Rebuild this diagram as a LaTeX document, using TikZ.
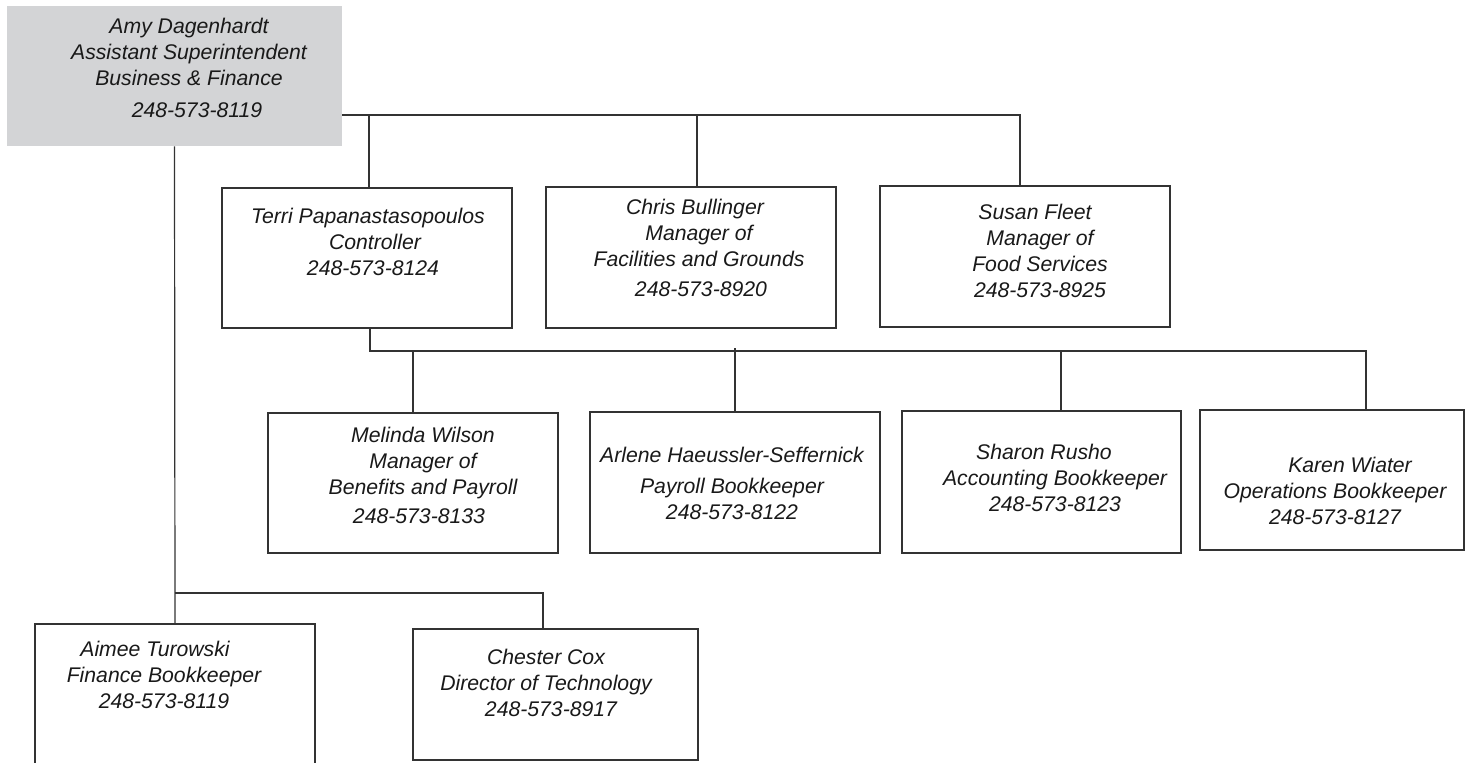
\documentclass[tikz,border=0pt]{standalone}
\usepackage{fontspec}
\setmainfont{Liberation Sans}
\definecolor{headgray}{RGB}{211,212,214}
\begin{document}
\begin{tikzpicture}[x=0.5pt, y=-0.5pt,
    box/.style={draw=black!80, line width=0.65pt, inner sep=0pt},
    headbox/.style={fill=headgray, inner sep=0pt},
    info/.style={anchor=base, align=center, inner sep=0pt, text=black!90,
      font=\fontsize{10.6}{13}\selectfont\itshape},
    link/.style={draw=black!80, line width=0.6pt}]
    \useasboundingbox (0,0) rectangle (1471,763);
    \clip (0,0) rectangle (1471,763);

    % boxes:
    \node[headbox, minimum width=167.5pt, minimum height=70pt] (amy) at (174.5,76) {};

    % first row
    \node[box, minimum width=145pt, minimum height=70pt] (terri) at (367,258) {};
    \node[box, minimum width=145pt, minimum height=70.5pt] (chris) at (691,257.5) {};
    \node[box, minimum width=145pt, minimum height=70.5pt] (susan) at (1025,256.5) {};

    % second row
    \node[box, minimum width=145pt, minimum height=70pt] (melinda) at (413,483) {};
    \node[box, minimum width=145pt, minimum height=70.5pt] (arlene) at (735,482.5) {};
    \node[box, minimum width=139.5pt, minimum height=71pt] (sharon) at (1041.5,482) {};
    \node[box, minimum width=132pt, minimum height=70pt] (karen) at (1332,480) {};

    % bottom row (cut off by the page)
    \node[box, minimum width=140pt, minimum height=76pt] (aimee) at (175,700) {};
    \node[box, minimum width=142.5pt, minimum height=65.5pt] (chester) at (555.5,694.5) {};

    % lines:
    \coordinate (busTop) at (0,115);
    \coordinate (busMid) at (0,351);
    \coordinate (busLow) at (0,593);

    % to first row
    \draw[link] (amy.east |- busTop) -| ([xshift=-2.5pt]susan.north);
    \draw[link] ([xshift=1pt]terri.north) -- ([xshift=1pt]terri.north |- busTop);
    \draw[link] ([xshift=3pt]chris.north) -- ([xshift=3pt]chris.north |- busTop);

    % controller to second row
    \draw[link] ([xshift=1.5pt]terri.south) |- ([xshift=17pt]karen.north |- busMid) -- ([xshift=17pt]karen.north);
    \draw[link] (melinda.north) -- (melinda.north |- busMid);
    \draw[link] (arlene.north) -- ([yshift=1.5pt]arlene.north |- busMid);
    \draw[link] ([xshift=9.75pt]sharon.north) -- ([xshift=9.75pt]sharon.north |- busMid);

    % to bottom row
    \draw[link] (amy.south) -- (aimee.north);
    \draw[link] (amy.south |- busLow) -| ([xshift=-6.25pt]chester.north);

    % texts (placed by the baseline of their last line):
    \node[info] (amyText) at (189,118) {Amy Dagenhardt\\Assistant Superintendent\\Business \& Finance\hspace*{5pt}\\[3pt]\hspace*{8pt}248-573-8119};
    \node[info] (terriText) at (368,276) {Terri Papanastasopoulos\\\hspace*{7pt}Controller\\\hspace*{5pt}248-573-8124};
    \node[info] (chrisText) at (699,297) {Chris Bullinger\hspace*{4pt}\\Manager of\hspace*{12pt}\\Facilities and Grounds\\[2pt]\hspace*{2pt}248-573-8920};
    \node[info] (susanText) at (1040,298) {Susan Fleet\hspace*{5pt}\\Manager of\\Food Services\\248-573-8925};
    \node[info] (melindaText) at (423,524) {Melinda Wilson\\Manager of\hspace*{12pt}\\Benefits and Payroll\\[1.5pt]248-573-8133\hspace*{4pt}};
    \node[info] (arleneText) at (732,520) {Arlene Haeussler-Seffernick\\[2.5pt]Payroll Bookkeeper\\248-573-8122};
    \node[info] (sharonText) at (1055,512) {Sharon Rusho\hspace*{11pt}\\Accounting Bookkeeper\\248-573-8123};
    \node[info] (karenText) at (1335,525) {\hspace*{15pt}Karen Wiater\\Operations Bookkeeper\\248-573-8127};
    \node[info] (aimeeText) at (164,708) {Aimee Turowski\hspace*{9pt}\\Finance Bookkeeper\\248-573-8119};
    \node[info] (chesterText) at (546,716) {Chester Cox\\Director of Technology\\\hspace*{5pt}248-573-8917};
\end{tikzpicture}
\end{document}
